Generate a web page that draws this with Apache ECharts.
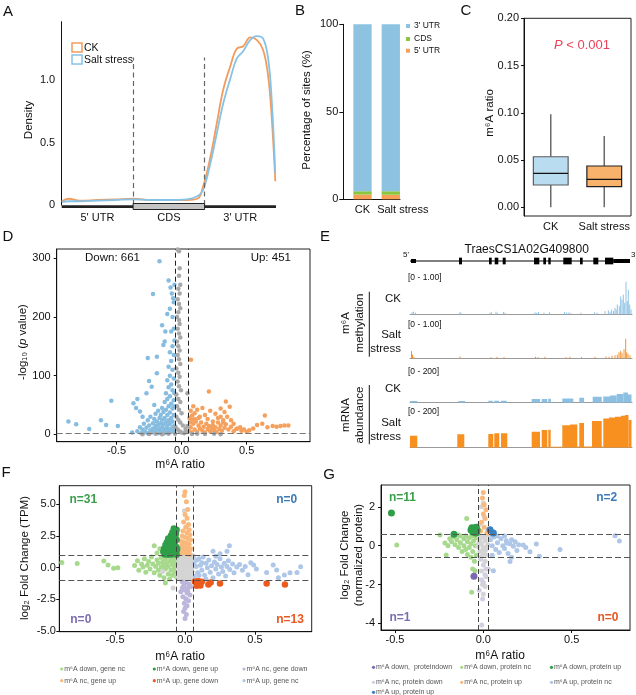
<!DOCTYPE html>
<html>
<head>
<meta charset="utf-8">
<title>m6A figure</title>
<style>
  html, body { margin: 0; padding: 0; background: #fff; }
  #main { width: 636px; height: 695px; }
</style>
</head>
<body>
<script src="https://cdn.jsdelivr.net/npm/echarts@6/dist/echarts.min.js"></script>
<div id="main"></div>
<script type="text/javascript">
var FONT = '"Liberation Sans", Arial, sans-serif';

// ---------- A: metagene density ----------
var metaPos   = [0, 0.1, 0.25, 0.5, 0.75, 1.0, 1.25, 1.5, 1.75, 1.9, 1.98, 2.08, 2.17, 2.26, 2.36, 2.45, 2.54, 2.64, 2.73, 2.82, 2.89, 2.94, 2.99];
var densCK    = [0.03, 0.05, 0.035, 0.04, 0.045, 0.05, 0.04, 0.04, 0.04, 0.05, 0.15, 0.38, 0.65, 0.92, 1.11, 1.25, 1.27, 1.34, 1.32, 1.24, 1.03, 0.70, 0.19];
var densSalt  = [0.025, 0.03, 0.03, 0.035, 0.04, 0.045, 0.04, 0.04, 0.045, 0.07, 0.12, 0.33, 0.57, 0.81, 1.01, 1.17, 1.23, 1.32, 1.35, 1.33, 1.17, 0.84, 0.25];
var regionNames = ["5' UTR", 'CDS', "3' UTR"];
var regionStart = [0, 1, 2];
var regionEnd   = [1, 2, 3];

// ---------- B: site distribution ----------
var bGroups = ['CK', 'Salt stress'];
var pct5utr = [2.7, 2.6];
var pctCds  = [1.9, 2.0];
var pct3utr = [95.4, 95.4];
var siteColors = ['#F79F56', '#8CC63E', '#8DC3E0'];   // 5' UTR, CDS, 3' UTR

// ---------- C: m6A ratio boxes (min, q1, median, q3, max) ----------
var boxGroups = ['CK', 'Salt stress'];
var boxCK   = [0, 0.0236, 0.036, 0.0535, 0.0986];
var boxSalt = [0, 0.0218, 0.0296, 0.0437, 0.0754];

// ---------- D: volcano ----------
var dDown = [[-0.87,22],[-0.81,17],[-0.71,9],[-0.62,24],[-0.58,16],[-0.54,57],[-0.49,14],[-0.38,3],[-0.37,53],[-0.35,45],[-0.34,60],[-0.32,39],[-0.30,30],[-0.27,70],[-0.26,130],[-0.25,91],[-0.23,81],[-0.22,239],[-0.21,50],[-0.19,132],[-0.19,104],[-0.17,295],[-0.15,186],[-0.14,152],[-0.13,158],[-0.10,262],[-0.085,250],[-0.075,240],[-0.065,232],[-0.09,214],[-0.11,205],[-0.125,175],
  [-0.34,5],[-0.32,12],[-0.31,2],[-0.30,8],[-0.29,18],[-0.28,4],[-0.27,11],[-0.26,24],[-0.26,2],[-0.25,15],[-0.24,7],[-0.24,30],[-0.23,3],[-0.22,19],[-0.22,10],[-0.21,26],[-0.21,4],[-0.20,14],[-0.20,35],[-0.19,8],[-0.19,22],[-0.18,2],[-0.18,16],[-0.18,40],[-0.17,28],[-0.17,9],[-0.16,4],[-0.16,19],[-0.16,33],[-0.15,12],[-0.15,45],[-0.15,25],[-0.14,6],[-0.14,17],[-0.14,38],[-0.13,2],[-0.13,28],[-0.13,55],[-0.12,10],[-0.12,21],[-0.12,42],[-0.12,70],[-0.11,5],[-0.11,15],[-0.11,33],[-0.11,60],[-0.11,92],[-0.10,3],[-0.10,24],[-0.10,48],[-0.10,80],[-0.10,115],[-0.09,9],[-0.09,18],[-0.09,37],[-0.09,65],[-0.09,100],[-0.09,140],[-0.08,4],[-0.08,28],[-0.08,52],[-0.08,85],[-0.08,125],[-0.08,175],[-0.07,12],[-0.07,22],[-0.07,44],[-0.07,75],[-0.07,110],[-0.07,150],[-0.07,200],[-0.06,6],[-0.06,33],[-0.06,58],[-0.06,95],[-0.06,135],[-0.06,180],[-0.06,225],[-0.055,15],[-0.055,48],[-0.055,70],[-0.055,160],[-0.055,255]];
var dUp = [[0.072,127],[0.21,73],[0.34,56],[0.37,47],[0.64,32],[0.62,18],[0.66,12],[0.70,14],[0.73,13],[0.76,14],[0.79,15],[0.82,15],[0.58,16],[0.55,10],[0.52,7],[0.48,8],[0.45,12],[0.42,9],[0.40,18],[0.38,24],[0.35,30],[0.33,38],[0.30,44],[0.28,28],[0.26,35],[0.24,22],[0.22,40],[0.20,26],[0.18,33],[0.16,45],[0.14,30],[0.12,42],[0.10,36],[0.09,48],[0.08,25],[0.07,40],
  [0.06,5],[0.07,12],[0.08,3],[0.09,18],[0.10,8],[0.11,22],[0.12,4],[0.13,15],[0.14,10],[0.15,20],[0.16,6],[0.17,13],[0.18,3],[0.19,18],[0.2,9],[0.21,14],[0.22,5],[0.23,11],[0.24,16],[0.25,7],[0.26,12],[0.27,4],[0.28,20],[0.29,9],[0.3,15],[0.31,6],[0.32,24],[0.33,11],[0.34,17],[0.36,8],[0.38,13],[0.4,5],[0.43,10],[0.46,6],[0.5,4],[0.06,28],[0.065,20],[0.08,32],[0.1,26],[0.13,28],[0.3,30],[0.32,20]];
var dNc = [[-0.03,315],[-0.02,312],[-0.015,283],[-0.02,270],[-0.01,255],[-0.025,248],[-0.015,240],[-0.03,230],[-0.02,222],[-0.01,215],[-0.025,208],[-0.035,200],[-0.02,195],[-0.015,188],[-0.03,180],[-0.02,172],[-0.01,165],[-0.035,158],[-0.025,150],[-0.015,143],[-0.03,135],[-0.02,128],[-0.01,120],[-0.04,112],[-0.025,105],[-0.015,98],[-0.03,90],[-0.02,82],[-0.005,75],[-0.04,68],[-0.025,60],[-0.01,55],[-0.035,48],[-0.02,42],[0.0,36],[-0.04,30],[-0.025,25],[-0.01,20],[0.01,15],[-0.045,12],[-0.03,8],[-0.015,5],[0.0,3],[0.02,2],[0.04,4],[-0.05,1],[0.03,9],[0.045,14],[0.045,70],
  [-0.25,0.5],[-0.2,1],[-0.15,0.3],[-0.1,0.8],[0.08,0.5],[0.12,1],[0.18,0.4],[0.25,0.8],[0.3,0.3],[-0.3,0.2]];
var dRatioCut = 0.05, dPCut = 1.3;

// ---------- E: tracks for TraesCS1A02G409800 ----------
var geneSpan = [0, 2200];
var exons = [[10,60,0],[490,520,1],[790,817,1],[847,883,1],[927,957,1],[1240,1293,1],[1333,1360,1],[1383,1407,1],[1533,1617,1],[1700,1727,1],[1833,1883,1],[1950,2033,1],[2033,2200,0]];
var m6aCK = [[20,0.06],[35,0.08],[55,0.05],[500,0.07],[510,0.04],[800,0.05],[815,0.06],[860,0.08],[875,0.04],[935,0.07],[950,0.05],[1250,0.06],[1265,0.04],[1285,0.07],[1340,0.05],[1395,0.06],[1545,0.07],[1565,0.05],[1590,0.06],[1610,0.04],[1710,0.05],[1845,0.06],[1870,0.05],[1950,0.1],[1983,0.12],[2000,0.08],[2017,0.15],[2035,0.1],[2050,0.2],[2062,0.14],[2073,0.3],[2093,0.25],[2107,0.55],[2120,0.45],[2133,0.6],[2147,0.35],[2160,1.0],[2173,0.4],[2183,0.75],[2197,0.3],[2210,0.15]];
var m6aSalt = [[15,0.24],[25,0.12],[40,0.05],[500,0.06],[810,0.04],[870,0.05],[940,0.04],[1255,0.05],[1280,0.04],[1350,0.05],[1560,0.04],[1600,0.05],[1715,0.04],[1850,0.05],[1960,0.06],[1990,0.05],[2020,0.08],[2050,0.1],[2073,0.12],[2090,0.2],[2107,0.25],[2120,0.18],[2140,0.3],[2157,0.65],[2167,0.2],[2180,0.15],[2200,0.1]];
var rnaCK = [[0,73,12],[483,550,12],[783,827,14],[843,893,14],[910,967,14],[1217,1300,26],[1317,1373,27],[1383,1410,28],[1523,1633,31],[1693,1740,36],[1827,1917,43],[1933,2000,45],[2000,2067,52],[2067,2133,62],[2133,2180,74],[2180,2215,60]];
var rnaSalt = [[0,73,73],[473,543,82],[783,833,84],[843,893,88],[910,973,88],[1217,1300,98],[1317,1373,108],[1383,1407,110],[1410,1520,6],[1523,1600,138],[1600,1673,142],[1673,1693,8],[1693,1740,151],[1740,1820,8],[1820,1917,163],[1917,1933,8],[1933,1990,178],[1990,2050,184],[2050,2110,190],[2110,2150,196],[2150,2185,200],[2185,2215,170]];

// ---------- F: m6A ratio vs mRNA fold change ----------
var fDownNc = [[-0.88,0.42],[-0.77,0.34],[-0.58,0.53],[-0.55,0.21],[-0.51,-0.05],[-0.48,0.0],[-0.36,0.18],[-0.34,0.55],[-0.33,-0.2],[-0.31,0.3],[-0.30,0.05],[-0.29,0.7],[-0.28,-0.35],[-0.27,0.2],[-0.26,0.48],[-0.25,-0.1],[-0.24,0.85],[-0.23,0.3],[-0.22,1.74],[-0.22,-0.4],[-0.21,0.1],[-0.20,0.6],[-0.19,-0.2],[-0.19,0.35],[-0.18,1.5],[-0.18,-0.6],[-0.17,0.05],[-0.17,0.8],[-0.16,0.45],[-0.15,0.2],[-0.15,-0.8],[-0.14,0.65],[-0.14,-0.1],[-0.13,0.3],[-0.13,0.9],[-0.12,-0.5],[-0.12,0.1],[-0.11,0.5],[-0.11,-0.9],[-0.10,-0.2],[-0.10,0.75],[-0.09,0.25],[-0.09,-0.6],[-0.08,0.55],[-0.08,-0.05],[-0.07,0.85],[-0.07,-0.35],[-0.065,0.2],[-0.06,-0.75],[-0.06,0.45],[-0.14,-1.2],[-0.11,1.1],[-0.2,1.15]];
var fDownUp = [[-0.08,3.1],[-0.06,3.0],[-0.09,2.8],[-0.065,2.7],[-0.1,2.55],[-0.07,2.45],[-0.12,2.3],[-0.085,2.25],[-0.06,2.2],[-0.13,2.0],[-0.1,2.05],[-0.075,1.95],[-0.14,1.8],[-0.115,1.75],[-0.09,1.7],[-0.065,1.65],[-0.15,1.5],[-0.125,1.45],[-0.1,1.4],[-0.08,1.45],[-0.06,1.35],[-0.155,1.25],[-0.135,1.2],[-0.11,1.15],[-0.09,1.2],[-0.07,1.1],[-0.055,1.5],[-0.145,1.05],[-0.12,1.02],[-0.095,1.05],[-0.06,1.02]];
var fNcDown = [[-0.02,-1.1],[0.01,-1.2],[0.03,-1.3],[-0.01,-1.45],[0.02,-1.6],[0.0,-1.75],[-0.03,-1.9],[0.015,-2.0],[0.035,-2.15],[-0.015,-2.3],[0.005,-2.45],[0.025,-2.6],[-0.005,-2.8],[0.015,-3.0],[0.0,-3.2],[-0.01,-3.45],[0.01,-3.7],[0.0,-4.0],[0.02,-1.9],[-0.02,-1.6],[0.04,-1.5]];
var fNcUp = [[0.0,6.0],[-0.005,5.7],[0.01,5.2],[0.02,4.6],[0.0,4.2],[0.015,3.9],[-0.01,3.6],[0.025,3.4],[0.005,3.2],[0.03,3.0],[-0.015,2.9],[0.015,2.75],[0.035,2.6],[-0.02,2.5],[0.0,2.4],[0.02,2.3],[0.04,2.2],[-0.03,2.1],[-0.01,2.0],[0.01,1.95],[0.03,1.85],[-0.025,1.75],[0.0,1.7],[0.02,1.6],[0.04,1.5],[-0.015,1.45],[0.005,1.35],[0.03,1.3],[-0.035,1.2],[-0.005,1.15],[0.015,1.1],[0.035,1.05]];
var fUpDown = [[0.071,-1.1],[0.083,-1.42],[0.085,-1.15],[0.09,-1.3],[0.1,-1.24],[0.11,-1.4],[0.12,-1.1],[0.167,-1.32],[0.183,-1.16],[0.25,-1.24],[0.583,-1.24],[0.714,-1.32],[0.095,-1.05]];
var fUpNc = [[0.06,0.9],[0.07,0.5],[0.08,0.1],[0.09,-0.4],[0.1,0.7],[0.11,0.2],[0.12,-0.2],[0.13,0.85],[0.14,-0.6],[0.15,0.35],[0.16,0.0],[0.17,0.6],[0.18,-0.35],[0.19,0.15],[0.2,-0.8],[0.21,0.45],[0.22,-0.1],[0.23,0.25],[0.24,-0.5],[0.25,0.7],[0.26,0.05],[0.27,-0.3],[0.28,0.35],[0.29,-0.65],[0.3,0.1],[0.31,0.55],[0.317,1.74],[0.32,-0.15],[0.34,0.3],[0.35,-0.4],[0.37,0.05],[0.39,0.25],[0.41,-0.2],[0.43,0.1],[0.45,-0.55],[0.47,0.4],[0.49,0.21],[0.51,-0.1],[0.583,-0.37],[0.63,0.21],[0.655,-0.18],[0.667,-0.79],[0.71,-0.58],[0.75,-0.4],[0.8,-0.37],[0.826,0.08],[0.065,-0.7],[0.075,-0.95],[0.1,-0.6],[0.12,0.4],[0.15,-0.9],[0.06,0.25],[0.085,0.6],[0.3,1.3],[0.25,1.1],[0.2,1.3],[0.22,0.9]];
var fNc = [[-0.05,0.9],[-0.03,0.95],[-0.01,0.85],[0.01,0.9],[0.03,0.8],[0.05,0.95],[-0.045,0.6],[-0.025,0.65],[-0.005,0.55],[0.015,0.7],[0.035,0.5],[0.05,0.6],[-0.04,0.3],[-0.02,0.35],[0.0,0.25],[0.02,0.4],[0.04,0.2],[-0.05,0.05],[-0.03,0.1],[-0.01,0.0],[0.01,0.1],[0.03,-0.05],[0.05,0.0],[-0.045,-0.25],[-0.025,-0.3],[-0.005,-0.2],[0.015,-0.35],[0.035,-0.15],[0.05,-0.3],[-0.04,-0.55],[-0.02,-0.5],[0.0,-0.6],[0.02,-0.45],[0.04,-0.65],[-0.05,-0.8],[-0.03,-0.85],[-0.01,-0.75],[0.01,-0.9],[0.03,-0.8],[0.05,-0.95],[-0.16,-0.3],[-0.085,-1.6],[-0.005,4.5]];
var fRatioCut = 0.055, fFcCut = 1;

// ---------- G: m6A ratio vs protein fold change ----------
var gDownDown = [[-0.053,-1.58]];
var gDownNc = [[-0.49,0.03],[-0.245,0.55],[-0.217,0.14],[-0.21,-0.48],[-0.094,1.4],[-0.066,-2.4],[-0.19,0.35],[-0.18,0.2],[-0.17,0.45],[-0.16,0.05],[-0.15,0.3],[-0.14,-0.1],[-0.13,0.5],[-0.13,0.15],[-0.12,-0.3],[-0.11,0.35],[-0.11,0.0],[-0.1,-0.2],[-0.1,0.5],[-0.09,0.2],[-0.09,-0.45],[-0.08,0.4],[-0.08,-0.1],[-0.07,0.1],[-0.07,-0.6],[-0.065,0.5],[-0.06,-0.3],[-0.055,0.25],[-0.05,-0.8],[-0.045,0.0],[-0.04,-0.5],[-0.04,0.4],[-0.2,0.0],[-0.14,0.55],[-0.06,-1.2],[-0.047,-1.29],[-0.05,1.0]];
var gDownUp = [[-0.52,1.68],[-0.166,0.58],[-0.055,0.86],[-0.04,0.95],[-0.05,0.75],[-0.035,0.8],[-0.065,0.92],[-0.045,0.65],[-0.06,0.7],[-0.038,0.66],[-0.07,0.8]];
var gNcDown = [[-0.015,-0.7],[0.0,-1.0],[0.01,-1.5],[0.0,-1.9],[-0.01,-1.75],[-0.023,-2.3],[-0.004,-2.74],[-0.009,-4.08],[0.015,-1.2]];
var gNcUp = [[0.0,2.74],[-0.005,2.45],[0.005,2.1],[0.0,1.63],[0.01,1.4],[-0.01,1.2],[0.005,0.95],[-0.015,0.75],[0.02,0.65],[0.015,1.85]];
var gUpNc = [[0.745,0.51],[0.77,0.24],[0.3,0.09],[0.434,-0.2],[0.317,-0.55],[0.151,-0.82],[0.057,-1.29],[0.04,0.3],[0.05,0.0],[0.06,0.45],[0.07,-0.2],[0.08,0.15],[0.09,-0.35],[0.1,0.35],[0.11,0.0],[0.132,0.14],[0.12,-0.15],[0.13,0.25],[0.14,-0.4],[0.15,0.1],[0.16,0.3],[0.17,-0.03],[0.18,0.2],[0.19,-0.25],[0.2,0.05],[0.226,0.03],[0.24,-0.1],[0.264,-0.31],[0.05,-0.5],[0.08,0.5],[0.045,0.55],[0.12,0.5],[0.16,-0.6]];
var gUpUp = [[0.038,0.82],[0.057,0.65]];
var gNc = [[-0.025,0.5],[0.0,0.45],[0.02,0.55],[-0.02,0.3],[0.01,0.25],[-0.01,0.1],[0.025,0.05],[-0.03,-0.05],[0.0,-0.1],[0.015,-0.2],[-0.02,-0.3],[0.005,-0.4],[-0.01,-0.55],[0.02,-0.5],[-0.025,0.15],[0.01,0.35],[-0.005,-0.25],[0.02,-0.05],[0.0,2.2],[-0.01,2.0],[0.005,1.5],[-0.02,1.1],[0.01,-0.8],[-0.01,-1.3],[0.015,-1.6],[-0.005,-2.0],[0.0,-2.5],[0.01,-2.1],[0.03,-1.2],[-0.03,0.9],[0.025,0.8]];
var gRatioCut = 0.03, gFcCut = 0.585;

// ---------- colours ----------
var C_ORANGE = '#F39B5C', C_BLUE = '#86C2E6';
var C_LGREEN = '#A7D98D', C_DGREEN = '#2F9E48', C_LAV = '#BDB6DB', C_LORANGE = '#F9B97C',
    C_RED = '#EB5B1E', C_LBLUE = '#AEC6E8', C_GREY = '#D4D4D4', C_PURPLE = '#7B6AAF', C_DBLUE = '#3B80C2';

function pairs(xs, ys) { return xs.map(function (x, i) { return [x, ys[i]]; }); }

function axisBase(gridIndex, min, max, ticks, fmt, margin) {
  return {
    gridIndex: gridIndex, type: 'value', min: min, max: max,
    axisLine: { show: true, onZero: false, lineStyle: { color: '#111', width: 1 } },
    axisTick: { show: true, length: 3, customValues: ticks, lineStyle: { color: '#111' } },
    axisLabel: { customValues: ticks, formatter: fmt, margin: margin, color: '#111', fontSize: 11, fontFamily: FONT },
    splitLine: { show: false }
  };
}
function hiddenAxis(gridIndex, min, max) {
  return { gridIndex: gridIndex, type: 'value', min: min, max: max, show: false };
}
function fix(d) { return function (v) { return (+v).toFixed(d); }; }

function renderRegion(params, api) {
  var a = api.coord([api.value(0), 0]), b = api.coord([api.value(1), 0]);
  if (api.value(2) === 1) {
    return { type: 'rect', shape: { x: a[0], y: a[1] - 1.5, width: b[0] - a[0], height: 6 },
      style: { fill: '#c4c4c4', stroke: '#222', lineWidth: 1 } };
  }
  return { type: 'rect', shape: { x: a[0], y: a[1] + 0.2, width: b[0] - a[0], height: 2.8 }, style: { fill: '#222' } };
}

// stacked percentage bar: value(0) = group index, value(1..3) = 5' UTR, CDS, 3' UTR
function renderStack(params, api) {
  var i = api.value(0), w = 18.3, base = 0, kids = [];
  for (var k = 0; k < 3; k++) {
    var v = api.value(k + 1);
    var a = api.coord([i, base]), b = api.coord([i, base + v]);
    kids.push({ type: 'rect', shape: { x: a[0] - w / 2, y: b[1], width: w, height: a[1] - b[1] }, style: { fill: siteColors[k] } });
    base += v;
  }
  return { type: 'group', children: kids };
}

var boxFill = ['#BADCF0', '#F9B26B'], boxStroke = ['#5c5c5c', '#222'];
function renderBox(params, api) {
  var i = api.value(0);
  var w = api.size([1, 0])[0] * 0.65;
  var pMin = api.coord([i, api.value(1)]), pQ1 = api.coord([i, api.value(2)]),
      pMed = api.coord([i, api.value(3)]), pQ3 = api.coord([i, api.value(4)]), pMax = api.coord([i, api.value(5)]);
  var x = pQ1[0];
  return { type: 'group', children: [
    { type: 'line', shape: { x1: x, y1: pMin[1], x2: x, y2: pQ1[1] }, style: { stroke: '#6b6b6b', lineWidth: 1.5 } },
    { type: 'line', shape: { x1: x, y1: pQ3[1], x2: x, y2: pMax[1] }, style: { stroke: '#6b6b6b', lineWidth: 1.5 } },
    { type: 'rect', shape: { x: x - w / 2, y: pQ3[1], width: w, height: pQ1[1] - pQ3[1] }, style: { fill: boxFill[i], stroke: boxStroke[i], lineWidth: 1.2 } },
    { type: 'line', shape: { x1: x - w / 2, y1: pMed[1], x2: x + w / 2, y2: pMed[1] }, style: { stroke: '#111', lineWidth: 1.2 } }
  ] };
}

function renderSpan(params, api) {
  var a = api.coord([api.value(0), 0.5]), b = api.coord([api.value(1), 0.5]);
  return { type: 'line', shape: { x1: a[0], y1: a[1], x2: b[0], y2: b[1] }, style: { stroke: '#000', lineWidth: 1 } };
}
function renderExon(params, api) {
  var a = api.coord([api.value(0), 0.5]), b = api.coord([api.value(1), 0.5]);
  var h = api.value(2) === 1 ? 6.7 : 4;
  return { type: 'rect', shape: { x: a[0], y: a[1] - h / 2, width: Math.max(b[0] - a[0], 1.5), height: h }, style: { fill: '#000' } };
}
function renderSpike(params, api) {
  var a = api.coord([api.value(0), 0]), b = api.coord([api.value(0), api.value(1)]);
  return { type: 'line', shape: { x1: a[0], y1: a[1], x2: b[0], y2: b[1] }, style: { stroke: api.visual('color'), lineWidth: 1 } };
}
function renderBlock(params, api) {
  var a = api.coord([api.value(0), 0]), b = api.coord([api.value(1), api.value(2)]);
  return { type: 'rect', shape: { x: a[0], y: b[1], width: b[0] - a[0], height: a[1] - b[1] }, style: { fill: api.visual('color') } };
}

function scatter(grid, data, color, size, z) {
  return { type: 'scatter', xAxisIndex: grid, yAxisIndex: grid, data: data, symbolSize: size,
    itemStyle: { color: color, opacity: 1 }, z: z || 2, silent: true };
}
function cutLines(xCut, yCut, vColor, hColor) {
  return { silent: true, symbol: ['none', 'none'], label: { show: false },
    data: [
      { xAxis: -xCut, lineStyle: { color: vColor, type: [5, 3], width: 1 } },
      { xAxis: xCut, lineStyle: { color: vColor, type: [5, 3], width: 1 } },
      { yAxis: yCut[0], lineStyle: { color: hColor, type: [6, 3], width: 1 } }
    ].concat(yCut.length > 1 ? [{ yAxis: yCut[1], lineStyle: { color: hColor, type: [6, 3], width: 1 } }] : []) };
}

// ---------- text helpers ----------
function txt(x, y, s, st, rot) {
  return { type: 'text', x: x, y: y, rotation: rot || 0, z: 100, silent: true,
    style: Object.assign({ text: s, fontFamily: FONT, fontSize: 11, fill: '#111', align: 'center', verticalAlign: 'middle' }, st || {}) };
}
function vline(x, y1, y2) {
  return { type: 'line', z: 100, silent: true, shape: { x1: x, y1: y1, x2: x, y2: y2 }, style: { stroke: '#111', lineWidth: 1 } };
}

var graphics = [
  txt(8, 12, 'A', { fontSize: 15 }), txt(300, 11, 'B', { fontSize: 15 }), txt(466, 11, 'C', { fontSize: 15 }),
  txt(8, 237, 'D', { fontSize: 15 }), txt(325, 237, 'E', { fontSize: 15 }), txt(6, 473, 'F', { fontSize: 15 }), txt(329, 475, 'G', { fontSize: 15 }),
  // A
  txt(29, 120, 'Density', { fontSize: 11.5 }, Math.PI / 2),
  { type: 'rect', z: 100, shape: { x: 72, y: 43, width: 10, height: 9 }, style: { fill: '#fff', stroke: C_ORANGE, lineWidth: 1.5 } },
  { type: 'rect', z: 100, shape: { x: 72, y: 55, width: 10, height: 9 }, style: { fill: '#fff', stroke: C_BLUE, lineWidth: 1.5 } },
  txt(84, 47.7, 'CK', { align: 'left', fontSize: 10.5 }), txt(84, 60, 'Salt stress', { align: 'left', fontSize: 10.5 }),
  // B
  txt(307, 110, 'Percentage of sites (%)', { fontSize: 11.5 }, Math.PI / 2),
  { type: 'rect', z: 100, shape: { x: 406, y: 24, width: 4, height: 4 }, style: { fill: siteColors[2] } },
  { type: 'rect', z: 100, shape: { x: 406, y: 37, width: 4, height: 4 }, style: { fill: siteColors[1] } },
  { type: 'rect', z: 100, shape: { x: 406, y: 48.7, width: 4, height: 4 }, style: { fill: siteColors[0] } },
  txt(414, 26, "3' UTR", { align: 'left', fontSize: 8.5 }), txt(414, 39, 'CDS', { align: 'left', fontSize: 8.5 }), txt(414, 50.7, "5' UTR", { align: 'left', fontSize: 8.5 }),
  // C
  txt(490, 113, 'm⁶A ratio', { fontSize: 11.5 }, Math.PI / 2),
  txt(582, 45, '{i|P}{n| < 0.001}', { rich: { i: { fontStyle: 'italic', fontSize: 13, fill: '#E8435A', fontFamily: FONT }, n: { fontSize: 13, fill: '#E8435A', fontFamily: FONT } } }),
  // D
  txt(23, 342, '{a|-log₁₀ (}{i|p}{a| value)}', { rich: { a: { fontSize: 11.5, fontFamily: FONT, fill: '#111' }, i: { fontSize: 11.5, fontStyle: 'italic', fontFamily: FONT, fill: '#111' } } }, Math.PI / 2),
  txt(112.5, 258.3, 'Down: 661', { fontSize: 11.5 }), txt(270.8, 258.3, 'Up: 451', { fontSize: 11.5 }),
  txt(180, 465, 'm⁶A ratio', { fontSize: 12 }),
  // E
  txt(526.7, 250, 'TraesCS1A02G409800', { fontSize: 12 }),
  txt(406, 254.3, "5'", { fontSize: 8 }), txt(634, 254.3, "3'", { fontSize: 8 }),
  txt(408, 277.7, '[0 - 1.00]', { align: 'left', fontSize: 8.5 }), txt(408, 325, '[0 - 1.00]', { align: 'left', fontSize: 8.5 }),
  txt(408, 371.7, '[0 - 200]', { align: 'left', fontSize: 8.5 }), txt(408, 411.7, '[0 - 200]', { align: 'left', fontSize: 8.5 }),
  txt(352.5, 323, 'm⁶A\nmethylation', { fontSize: 11.5, lineHeight: 14 }, Math.PI / 2),
  txt(352.5, 415, 'mRNA\nabundance', { fontSize: 11.5, lineHeight: 14 }, Math.PI / 2),
  vline(369.3, 291.7, 356.7), vline(369.3, 385, 444.3),
  txt(401, 299, 'CK', { align: 'right', fontSize: 11.5 }), txt(401, 342, 'Salt\nstress', { align: 'right', fontSize: 11.5, lineHeight: 14 }),
  txt(401, 389, 'CK', { align: 'right', fontSize: 11.5 }), txt(401, 430, 'Salt\nstress', { align: 'right', fontSize: 11.5, lineHeight: 14 }),
  // F
  txt(25, 558, 'log₂ Fold Change (TPM)', { fontSize: 11.5 }, Math.PI / 2),
  txt(180, 656.7, 'm⁶A ratio', { fontSize: 12 }),
  txt(83.3, 500, 'n=31', { fontSize: 12, fontWeight: 'bold', fill: '#3A9F4A' }),
  txt(286.7, 500, 'n=0', { fontSize: 12, fontWeight: 'bold', fill: '#3C7BB8' }),
  txt(80.8, 620, 'n=0', { fontSize: 12, fontWeight: 'bold', fill: '#7C6DB3' }),
  txt(290, 620, 'n=13', { fontSize: 12, fontWeight: 'bold', fill: '#E8571F' }),
  // G
  txt(352, 555, 'log₂ Fold Change\n(normalized protein)', { fontSize: 11.5, lineHeight: 14 }, Math.PI / 2),
  txt(500, 656, 'm⁶A ratio', { fontSize: 12 }),
  txt(402.5, 497.7, 'n=11', { fontSize: 12, fontWeight: 'bold', fill: '#3A9F4A' }),
  txt(606.7, 497.7, 'n=2', { fontSize: 12, fontWeight: 'bold', fill: '#3C7BB8' }),
  txt(400, 617.7, 'n=1', { fontSize: 12, fontWeight: 'bold', fill: '#7C6DB3' }),
  txt(608, 617.7, 'n=0', { fontSize: 12, fontWeight: 'bold', fill: '#E8571F' })
];

function legendDots(items, xs, ys) {
  items.forEach(function (it, k) {
    var x = xs[k % 3], y = ys[Math.floor(k / 3)];
    graphics.push({ type: 'circle', z: 100, silent: true, shape: { cx: x, cy: y, r: 1.6 }, style: { fill: it[1] } });
    graphics.push(txt(x + 2.5, y, it[0], { align: 'left', fontSize: 7, fill: '#555' }));
  });
}
legendDots([['m⁶A down, gene nc', C_LGREEN], ['m⁶A down, gene up', C_DGREEN], ['m⁶A nc, gene down', C_LAV],
            ['m⁶A nc, gene up', C_LORANGE], ['m⁶A up, gene down', C_RED], ['m⁶A up, gene nc', C_LBLUE]],
           [61.7, 154.3, 244], [669, 680.7]);
legendDots([['m⁶A down,  proteindown', C_PURPLE], ['m⁶A down, protein nc', C_LGREEN], ['m⁶A down, protein up', C_DGREEN],
            ['m⁶A nc, protein down', '#D2CFE3'], ['m⁶A nc, protein up', C_LORANGE], ['m⁶A up, protein nc', C_LBLUE],
            ['m⁶A up, protein up', C_DBLUE]],
           [373.5, 461.7, 551.5], [667.3, 682.3, 692.3]);

var gridDefs = [
  { left: 61.7, top: 21.7, width: 214.3, height: 183.3 },
  { left: 343.3, top: 24.3, width: 56.7, height: 175 },
  { left: 524, top: 18.3, width: 107, height: 197.7, show: true, borderColor: '#222', borderWidth: 1 },
  { left: 56.7, top: 249, width: 253.3, height: 192.7, show: true, borderColor: '#222', borderWidth: 1 },
  { left: 410, top: 254, width: 222, height: 14 },
  { left: 410, top: 281.7, width: 222, height: 32.6 },
  { left: 410, top: 328.3, width: 222, height: 30 },
  { left: 410, top: 375, width: 222, height: 27.7 },
  { left: 410, top: 415, width: 222, height: 32.7 },
  { left: 59.3, top: 485.7, width: 252.4, height: 146, show: true, borderColor: '#222', borderWidth: 1 },
  { left: 381, top: 485, width: 249, height: 145, show: true, borderColor: '#222', borderWidth: 1 }
].map(function (g) { g.outerBoundsMode = 'none'; g.containLabel = false; return g; });

var trackX = function (gi) {
  return { gridIndex: gi, type: 'value', min: 0, max: 2220, axisLine: { show: true, onZero: false, lineStyle: { color: '#9a9a9a', width: 1 } },
    axisTick: { show: false }, axisLabel: { show: false }, splitLine: { show: false } };
};

var xAxes = [
  (function () { var a = axisBase(0, 0, 3, [0.5, 1.5, 2.5], function (v) { return regionNames[Math.floor(v)]; }, 7);
    a.axisLine.show = false; a.axisTick.show = false; return a; })(),
  (function () { var a = axisBase(1, -0.678, 1.325, [0, 1], function (v) { return +v === 1 ? '{s|' + bGroups[1] + '}' : bGroups[0]; }, 5);
    a.axisTick.show = false; a.axisLabel.rich = { s: { padding: [0, 0, 0, 24], fontSize: 11, fontFamily: FONT, color: '#111' } }; return a; })(),
  { gridIndex: 2, type: 'category', data: boxGroups, axisLine: { show: false }, axisTick: { show: false },
    axisLabel: { interval: 0, margin: 5, color: '#111', fontSize: 11, fontFamily: FONT } },
  axisBase(3, -0.96, 0.987, [-0.5, 0, 0.5], fix(1), 4),
  hiddenAxis(4, 0, 2220),
  trackX(5), trackX(6), trackX(7), trackX(8),
  axisBase(9, -0.898, 0.905, [-0.5, 0, 0.5], fix(1), 3),
  axisBase(10, -0.579, 0.83, [-0.5, 0, 0.5], fix(1), 4)
];
var yAxes = [
  (function () { var a = axisBase(0, 0, 1.466, [0, 0.5, 1], function (v) { return +v === 0 ? '0' : (+v).toFixed(1); }, 6.5);
    a.axisTick.show = false; return a; })(),
  (function () { var a = axisBase(1, 0, 100, [0, 50, 100], function (v) { return String(v); }, 5);
    a.axisTick.length = 4; return a; })(),
  axisBase(2, -0.0092, 0.2, [0, 0.05, 0.1, 0.15, 0.2], fix(2), 5),
  axisBase(3, -12.6, 315.8, [0, 100, 200, 300], fix(0), 6),
  hiddenAxis(4, 0, 1),
  hiddenAxis(5, 0, 1), hiddenAxis(6, 0, 1), hiddenAxis(7, 0, 200), hiddenAxis(8, 0, 200),
  axisBase(9, -5.05, 6.47, [-5, -2.5, 0, 2.5, 5], fix(1), 3.5),
  axisBase(10, -4.34, 3.12, [-4, -2, 0, 2], fix(0), 6)
];

var series = [
  // A
  { type: 'line', name: 'CK', xAxisIndex: 0, yAxisIndex: 0, data: pairs(metaPos, densCK), smooth: 0.4, symbol: 'none',
    lineStyle: { color: C_ORANGE, width: 1.8 }, z: 3 },
  { type: 'line', name: 'Salt stress', xAxisIndex: 0, yAxisIndex: 0, data: pairs(metaPos, densSalt), smooth: 0.4, symbol: 'none',
    lineStyle: { color: C_BLUE, width: 1.8 }, z: 3,
    markLine: { silent: true, symbol: ['none', 'none'], label: { show: false }, lineStyle: { color: '#666', type: [5, 3.5], width: 1.2 },
      data: regionEnd.slice(0, 2).map(function (x) { return [{ coord: [x, 0] }, { coord: [x, 1.18] }]; }) } },
  { type: 'custom', xAxisIndex: 0, yAxisIndex: 0, renderItem: renderRegion, clip: false, silent: true, z: 5,
    encode: { x: [0, 1] }, data: regionStart.map(function (s, i) { return [s, regionEnd[i], regionNames[i] === 'CDS' ? 1 : 0]; }) },
  // B
  { type: 'custom', xAxisIndex: 1, yAxisIndex: 1, renderItem: renderStack, silent: true, encode: { x: 0, y: [1, 2, 3] },
    data: bGroups.map(function (g, i) { return [i, pct5utr[i], pctCds[i], pct3utr[i]]; }) },
  // C
  { type: 'custom', xAxisIndex: 2, yAxisIndex: 2, renderItem: renderBox, silent: true, encode: { x: 0, y: [1, 2, 3, 4, 5] },
    data: [[0].concat(boxCK), [1].concat(boxSalt)] },
  // D
  scatter(3, dDown, '#86BCE0', 4.5, 2),
  scatter(3, dUp, '#F5A05C', 4.5, 2),
  (function () { var s = scatter(3, dNc, '#A8A8A8', 4.5, 3); s.markLine = cutLines(dRatioCut, [dPCut], '#222', '#777'); return s; })(),
  // E
  { type: 'custom', xAxisIndex: 4, yAxisIndex: 4, renderItem: renderSpan, silent: true, encode: { x: [0, 1] }, data: [geneSpan] },
  { type: 'custom', xAxisIndex: 4, yAxisIndex: 4, renderItem: renderExon, silent: true, encode: { x: [0, 1] }, data: exons },
  { type: 'custom', xAxisIndex: 5, yAxisIndex: 5, renderItem: renderSpike, silent: true, encode: { x: 0, y: 1 }, data: m6aCK, itemStyle: { color: '#8EC3E6' } },
  { type: 'custom', xAxisIndex: 6, yAxisIndex: 6, renderItem: renderSpike, silent: true, encode: { x: 0, y: 1 }, data: m6aSalt, itemStyle: { color: '#F2922E' } },
  { type: 'custom', xAxisIndex: 7, yAxisIndex: 7, renderItem: renderBlock, silent: true, clip: true, encode: { x: [0, 1], y: 2 }, data: rnaCK, itemStyle: { color: '#8DBFE3' } },
  { type: 'custom', xAxisIndex: 8, yAxisIndex: 8, renderItem: renderBlock, silent: true, clip: true, encode: { x: [0, 1], y: 2 }, data: rnaSalt, itemStyle: { color: '#F7901E' } },
  // F
  scatter(9, fDownNc, C_LGREEN, 5, 2),
  scatter(9, fUpNc, C_LBLUE, 5, 2),
  (function () { var s = scatter(9, fNc, C_GREY, 5, 2); s.markLine = cutLines(fRatioCut, [fFcCut, -fFcCut], '#444', '#555'); return s; })(),
  scatter(9, fNcDown, C_LAV, 5, 3),
  scatter(9, fNcUp, C_LORANGE, 5, 3),
  scatter(9, fDownUp, C_DGREEN, 6.5, 4),
  scatter(9, fUpDown, C_RED, 6.5, 4),
  // G
  scatter(10, gDownNc, C_LGREEN, 5, 2),
  scatter(10, gUpNc, C_LBLUE, 5, 2),
  (function () { var s = scatter(10, gNc, C_GREY, 5, 2); s.markLine = cutLines(gRatioCut, [gFcCut, -gFcCut], '#444', '#555'); return s; })(),
  scatter(10, gNcDown, '#D2CFE3', 5, 3),
  scatter(10, gNcUp, C_LORANGE, 5, 3),
  scatter(10, gDownUp, C_DGREEN, 7, 4),
  scatter(10, gDownDown, C_PURPLE, 7, 4),
  scatter(10, gUpUp, C_DBLUE, 7, 4)
];

var chart = echarts.init(document.getElementById('main'), null, { renderer: 'canvas' });
chart.setOption({
  animation: false,
  backgroundColor: '#fff',
  textStyle: { fontFamily: FONT },
  grid: gridDefs,
  xAxis: xAxes,
  yAxis: yAxes,
  series: series,
  graphic: { elements: graphics }
});
</script>
</body>
</html>
